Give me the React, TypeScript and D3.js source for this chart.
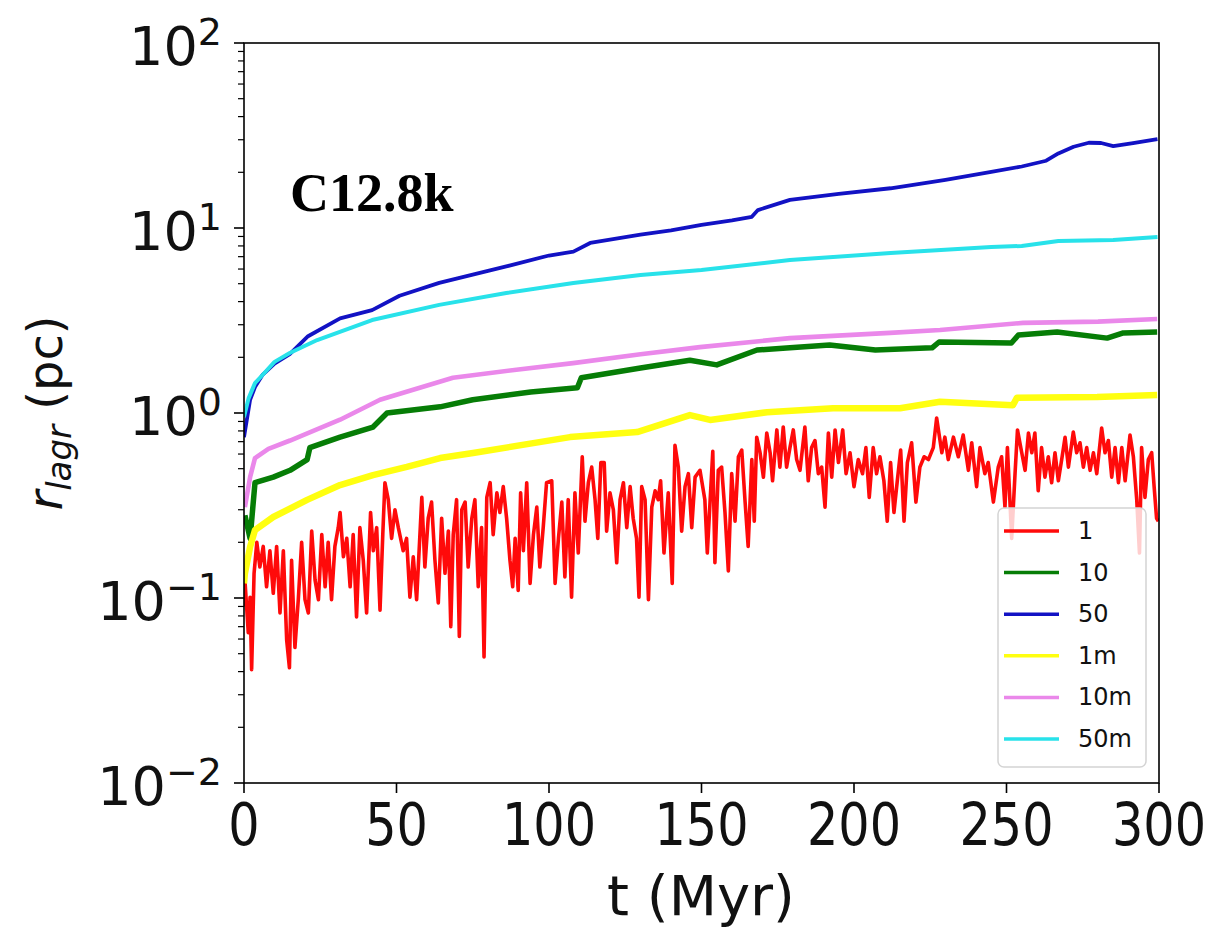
import React from 'react';
import * as d3 from 'd3';

const W = 1216;
const H = 927;
const PLOT = { left: 244, right: 1159, top: 43, bottom: 783 };

const xTicks = [0, 50, 100, 150, 200, 250, 300];
const yExponents = [-2, -1, 0, 1, 2];
const legendLabels = ['1', '10', '50', '1m', '10m', '50m'];
const seriesColors = ['#ff0a0a', '#067d06', '#1212c4', '#ffff10', '#ea88ea', '#28e2ea'];
const titleText = 'C12.8k';

const red1: [number, number][] = [
  [0, 0.09], [0.3, 0.125], [1.4, 0.065], [2.0, 0.101], [2.5, 0.041], [3.3, 0.136], [4.2, 0.2], [5.2, 0.147], [6.3, 0.19], [7.4, 0.115],
  [8.5, 0.18], [9.6, 0.106], [10.7, 0.19], [11.8, 0.083], [12.9, 0.18], [14.0, 0.059], [14.9, 0.042], [15.6, 0.16], [16.7, 0.054], [17.8, 0.098],
  [18.9, 0.2], [20.0, 0.098], [21.1, 0.083], [22.2, 0.23], [23.3, 0.125], [24.4, 0.098], [25.5, 0.22], [26.6, 0.115], [27.6, 0.2], [28.7, 0.098],
  [29.8, 0.19], [30.9, 0.24], [31.5, 0.29], [32.6, 0.167], [33.7, 0.21], [34.8, 0.115], [35.8, 0.22], [36.9, 0.079], [38.0, 0.24], [39.1, 0.16],
  [40.2, 0.083], [41.5, 0.29], [42.4, 0.18], [43.5, 0.24], [44.6, 0.086], [45.5, 0.22], [46.2, 0.42], [47.3, 0.34], [48.4, 0.21], [49.5, 0.3],
  [50.6, 0.24], [52.2, 0.18], [53.3, 0.21], [54.4, 0.101], [55.5, 0.167], [56.6, 0.098], [58.3, 0.35], [59.3, 0.147], [60.4, 0.27], [61.5, 0.33],
  [62.6, 0.16], [63.7, 0.094], [64.8, 0.27], [65.9, 0.136], [67.0, 0.23], [67.8, 0.07], [68.6, 0.22], [69.7, 0.34], [70.6, 0.062], [71.4, 0.3],
  [72.5, 0.33], [73.5, 0.147], [74.7, 0.27], [75.7, 0.34], [76.8, 0.115], [77.9, 0.24], [78.7, 0.048], [79.6, 0.35], [80.7, 0.42], [81.7, 0.22],
  [82.9, 0.37], [83.9, 0.29], [85.0, 0.4], [86.1, 0.27], [87.2, 0.16], [88.1, 0.115], [88.9, 0.21], [89.9, 0.11], [90.7, 0.37], [91.6, 0.18],
  [92.7, 0.42], [93.8, 0.12], [94.9, 0.22], [96.0, 0.31], [97.0, 0.147], [98.1, 0.24], [99.2, 0.42], [100.9, 0.43], [102.0, 0.12], [103.1, 0.21],
  [104.2, 0.33], [105.2, 0.13], [106.3, 0.34], [107.4, 0.101], [108.5, 0.37], [109.6, 0.175], [110.9, 0.58], [111.8, 0.26], [112.9, 0.42], [114.0, 0.51],
  [115.1, 0.34], [116.0, 0.21], [117.0, 0.54], [118.1, 0.54], [118.9, 0.23], [120.0, 0.37], [121.1, 0.3], [122.2, 0.155], [123.3, 0.34], [124.4, 0.42],
  [125.5, 0.24], [126.6, 0.4], [127.6, 0.27], [128.7, 0.21], [129.5, 0.101], [130.4, 0.4], [131.5, 0.34], [132.6, 0.098], [133.7, 0.31], [134.8, 0.38],
  [135.8, 0.34], [136.6, 0.43], [137.7, 0.175], [139.1, 0.37], [140.4, 0.12], [141.3, 0.67], [142.4, 0.51], [143.5, 0.23], [144.6, 0.4], [145.7, 0.47],
  [146.8, 0.24], [147.9, 0.45], [149.5, 0.49], [151.1, 0.34], [151.9, 0.175], [153.7, 0.62], [154.4, 0.155], [155.5, 0.49], [156.6, 0.51], [157.7, 0.29],
  [158.8, 0.14], [159.9, 0.47], [161.0, 0.26], [162.1, 0.58], [163.2, 0.63], [164.3, 0.33], [165.3, 0.19], [166.5, 0.56], [167.3, 0.26], [168.1, 0.74],
  [169.2, 0.61], [170.3, 0.45], [171.4, 0.78], [172.5, 0.61], [173.3, 0.43], [174.7, 0.81], [175.7, 0.51], [176.8, 0.84], [177.9, 0.51], [179.0, 0.65],
  [180.1, 0.81], [181.2, 0.56], [182.3, 0.49], [183.9, 0.84], [185.0, 0.43], [186.1, 0.65], [187.2, 0.71], [188.3, 0.47], [189.4, 0.51], [190.5, 0.31],
  [191.6, 0.78], [192.7, 0.45], [193.8, 0.81], [194.9, 0.54], [196.3, 0.81], [197.4, 0.47], [198.7, 0.61], [200.0, 0.4], [201.4, 0.56], [202.8, 0.47],
  [203.9, 0.65], [205.0, 0.35], [206.3, 0.65], [207.4, 0.47], [208.5, 0.58], [209.8, 0.43], [210.9, 0.26], [212.0, 0.54], [213.1, 0.29], [214.2, 0.43],
  [215.3, 0.63], [216.4, 0.26], [217.5, 0.54], [218.9, 0.69], [220.3, 0.33], [221.6, 0.51], [223.0, 0.58], [224.4, 0.56], [226.0, 0.65], [227.1, 0.94],
  [228.8, 0.61], [229.8, 0.74], [230.9, 0.56], [232.6, 0.74], [234.2, 0.58], [235.8, 0.76], [237.5, 0.49], [238.6, 0.69], [240.2, 0.4], [241.3, 0.65],
  [242.9, 0.47], [244.0, 0.54], [245.7, 0.33], [247.3, 0.51], [248.4, 0.58], [249.5, 0.31], [250.3, 0.65], [251.7, 0.21], [252.8, 0.47], [253.6, 0.81],
  [255.0, 0.61], [256.1, 0.49], [257.2, 0.78], [258.3, 0.61], [259.3, 0.78], [260.4, 0.38], [261.5, 0.65], [262.6, 0.45], [263.7, 0.58], [264.8, 0.42],
  [265.9, 0.61], [267.0, 0.43], [268.1, 0.56], [269.2, 0.74], [270.3, 0.51], [271.9, 0.79], [273.0, 0.61], [274.1, 0.69], [275.2, 0.51], [276.3, 0.65],
  [277.4, 0.49], [278.5, 0.61], [279.6, 0.47], [281.2, 0.83], [282.3, 0.61], [283.4, 0.71], [284.5, 0.45], [285.6, 0.65], [286.7, 0.42], [287.8, 0.65],
  [288.9, 0.43], [290.5, 0.76], [291.6, 0.58], [292.7, 0.34], [293.6, 0.175], [294.3, 0.65], [295.4, 0.35], [296.5, 0.56], [297.6, 0.61], [298.4, 0.4],
  [299.2, 0.27], [299.8, 0.26],
];

const green10: [number, number][] = [
  [0.3, 0.28], [2.0, 0.21], [3.6, 0.42], [9.6, 0.45], [15.1, 0.49], [20.7, 0.56], [21.6, 0.65], [31.5, 0.74], [42.3, 0.84], [46.9, 1.0],
  [64.3, 1.08], [75, 1.18], [94, 1.3], [109.3, 1.37], [110.6, 1.55], [130, 1.75], [146.2, 1.93], [155, 1.82], [168.2, 2.19], [179, 2.25],
  [192, 2.33], [207, 2.19], [225.6, 2.25], [227.9, 2.42], [251.6, 2.39], [253.9, 2.64], [266.6, 2.74], [283, 2.54], [288.3, 2.71], [299.4, 2.74],
];

const blue50: [number, number][] = [
  [0, 0.74], [2, 1.18], [3.6, 1.38], [6, 1.6], [10, 1.85], [15, 2.08], [21, 2.6], [31.5, 3.25], [42, 3.6], [51, 4.3],
  [64, 5.05], [75, 5.6], [86, 6.2], [100, 7.1], [108, 7.45], [113.5, 8.3], [130, 9.2], [140, 9.7], [150, 10.4], [160, 11.0],
  [166.5, 11.5], [168.5, 12.5], [179, 14.2], [195, 15.3], [212, 16.4], [230, 18.2], [245, 20.1], [255, 21.5], [263, 23.1], [267, 25.3],
  [272, 27.5], [277, 28.9], [281, 28.8], [285, 27.7], [291.5, 28.8], [299.5, 30.2],
];

const yellow1m: [number, number][] = [
  [0, 0.12], [0.3, 0.136], [2.0, 0.189], [3.6, 0.233], [9.6, 0.274], [20.7, 0.339], [31.5, 0.408], [42.3, 0.462], [53.4, 0.511], [64.3, 0.571],
  [75.1, 0.608], [106.9, 0.741], [128.9, 0.789], [146.2, 0.975], [152.8, 0.917], [171.5, 1.01], [193.1, 1.06], [215.1, 1.06], [228.2, 1.15], [252.1, 1.1],
  [253.4, 1.21], [279.7, 1.22], [299.4, 1.25],
];

const violet10m: [number, number][] = [
  [0.3, 0.31], [2, 0.45], [3.6, 0.57], [8, 0.64], [15.1, 0.71], [31.5, 0.92], [44.6, 1.18], [68.5, 1.55], [90, 1.72], [107.9, 1.86],
  [130, 2.08], [149.5, 2.27], [179, 2.54], [211.8, 2.71], [228.2, 2.81], [255.4, 3.07], [280, 3.12], [299.4, 3.22],
];

const cyan50m: [number, number][] = [
  [0, 0.95], [1.5, 1.2], [3.6, 1.45], [6, 1.6], [10, 1.89], [15, 2.11], [24, 2.48], [42, 3.18], [64, 3.84], [86, 4.45],
  [108, 5.04], [130, 5.57], [150, 5.93], [179, 6.71], [212, 7.33], [245, 7.89], [255, 8.0], [267, 8.51], [285, 8.6], [299.5, 8.94],
];

const allSeries = [red1, green10, blue50, yellow1m, violet10m, cyan50m];
const strokeWidths = [3.6, 5.5, 3.8, 6.5, 4.6, 4];

export default function App() {
  const x = d3.scaleLinear().domain([0, 300]).range([PLOT.left, PLOT.right]);
  const y = d3.scaleLog().domain([0.01, 100]).range([PLOT.bottom, PLOT.top]);
  const line = d3
    .line<[number, number]>()
    .x((d) => x(d[0]))
    .y((d) => y(d[1]));

  const minor: number[] = [];
  for (let e = -2; e < 2; e++) {
    for (let m = 2; m <= 9; m++) minor.push(m * Math.pow(10, e));
  }

  const sans = 'DejaVu Sans, sans-serif';
  const legX = 998;
  const legY = 508;
  const legW = 148;
  const legH = 259;
  const rowH = 41.6;

  return (
    <svg width={W} height={H} style={{ position: 'absolute', left: 0, top: 0, background: '#fff' }}>
      <defs>
        <clipPath id="plotclip">
          <rect x={PLOT.left} y={PLOT.top} width={PLOT.right - PLOT.left} height={PLOT.bottom - PLOT.top} />
        </clipPath>
      </defs>
      <rect x={0} y={0} width={W} height={H} fill="#fff" />

      <g clipPath="url(#plotclip)" fill="none" strokeLinejoin="round">
        {allSeries.map((s, i) => (
          <path key={i} d={line(s) || ''} stroke={seriesColors[i]} strokeWidth={strokeWidths[i]} />
        ))}
      </g>

      {/* frame */}
      <rect
        x={PLOT.left}
        y={PLOT.top}
        width={PLOT.right - PLOT.left}
        height={PLOT.bottom - PLOT.top}
        fill="none"
        stroke="#000"
        strokeWidth={1.6}
      />

      {/* y ticks */}
      {yExponents.map((e) => {
        const yy = y(Math.pow(10, e));
        return (
          <g key={'ye' + e}>
            <line x1={PLOT.left - 10} x2={PLOT.left} y1={yy} y2={yy} stroke="#000" strokeWidth={1.6} />
            <text x={222} y={yy + 22} textAnchor="end" fontFamily={sans} fontSize={54} fill="#111">
              10
              <tspan fontSize={38} dy={-20}>
                {e < 0 ? '\u2212' + Math.abs(e) : String(e)}
              </tspan>
            </text>
          </g>
        );
      })}
      {minor.map((v, i) => (
        <line key={'mn' + i} x1={PLOT.left - 6} x2={PLOT.left} y1={y(v)} y2={y(v)} stroke="#000" strokeWidth={1.2} />
      ))}

      {/* x ticks */}
      {xTicks.map((t) => (
        <g key={'xt' + t}>
          <line x1={x(t)} x2={x(t)} y1={PLOT.bottom} y2={PLOT.bottom + 10} stroke="#000" strokeWidth={1.6} />
          <text
            transform={`translate(${x(t)},${845}) scale(0.85,1)`}
            textAnchor="middle"
            fontFamily={sans}
            fontSize={58}
            fill="#111"
          >
            {t}
          </text>
        </g>
      ))}

      {/* axis labels */}
      <text x={701} y={915} textAnchor="middle" fontFamily={sans} fontSize={56} fill="#111">
        t (Myr)
      </text>
      <text transform={`translate(62,${413}) rotate(-90)`} textAnchor="middle" fontFamily={sans} fontSize={48} fill="#111">
        <tspan fontStyle="italic">r</tspan>
        <tspan fontStyle="italic" fontSize={34} dy={9}>
          lagr
        </tspan>
        <tspan dy={-9}> (pc)</tspan>
      </text>

      {/* title */}
      <text x={290} y={211} fontFamily="Liberation Serif, serif" fontWeight="bold" fontSize={54} fill="#000">
        {titleText}
      </text>

      {/* legend */}
      <rect x={legX} y={legY} width={legW} height={legH} rx={6} fill="#fff" fillOpacity={0.8} stroke="#d4d4d4" strokeWidth={1.5} />
      {legendLabels.map((lab, i) => {
        const yy = legY + 23 + rowH * i;
        return (
          <g key={'lg' + i}>
            <line x1={1004} x2={1059} y1={yy} y2={yy} stroke={seriesColors[i]} strokeWidth={3.5} />
            <text x={1078} y={yy} dominantBaseline="central" fontFamily={sans} fontSize={24} fill="#111">
              {lab}
            </text>
          </g>
        );
      })}
    </svg>
  );
}
